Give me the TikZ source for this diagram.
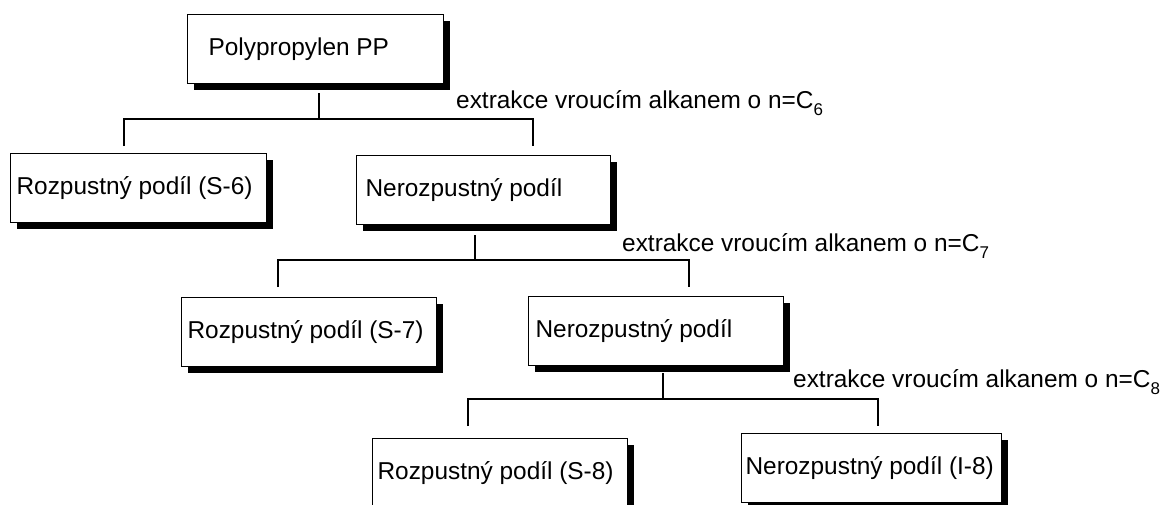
\documentclass[tikz,border=0pt]{standalone}
\usepackage{fontspec}
\setmainfont{Liberation Sans}
\usetikzlibrary{shadows}
\tikzset{
  txt/.style={font=\fontsize{24.4}{29}\selectfont},
  box/.style={txt, draw=black, line width=1.2pt, fill=white, anchor=north west,
    inner xsep=0pt, inner ysep=0pt, minimum height=69pt,
    drop shadow={shadow xshift=6pt, shadow yshift=-6pt, fill=black, opacity=1}},
  conn/.style={draw=black, line width=1.2pt},
  lab/.style={txt, anchor=base west, inner sep=0pt}
}
\newcommand{\boxtext}[3]{\makebox[#1pt][l]{\hspace{#2pt}#3}}
\newcommand{\subnum}[1]{\raisebox{-7pt}{\fontsize{17}{17}\selectfont #1}}
\begin{document}
\begin{tikzpicture}[x=1pt, y=-1pt]
\useasboundingbox (0,0) rectangle (1173,504);
% boxes
\node[box] (b1) at (187,14) {\boxtext{256}{21}{\raisebox{-2pt}{Polypropylen PP}}};
\node[box] (s6) at (10,153) {\boxtext{256}{6}{Rozpustný podíl (S-6)}};
\node[box] (n1) at (356,155) {\boxtext{254}{9}{\raisebox{-1.5pt}{Nerozpustný podíl}}};
\node[box] (s7) at (181,297) {\boxtext{255}{6}{Rozpustný podíl (S-7)}};
\node[box] (n2) at (528,296) {\boxtext{255}{7}{\raisebox{-1.5pt}{Nerozpustný podíl}}};
\node[box] (s8) at (372,438) {\boxtext{255}{5}{\raisebox{4pt}{Rozpustný podíl (S-8)}}};
\node[box] (i8) at (741,433) {\boxtext{260}{4}{\raisebox{2pt}{Nerozpustný podíl (I-8)}}};
% labels
\node[lab] (lab1) at (456,108) {extrakce vroucím alkanem o n=C\subnum{6}};
\node[lab] (lab2) at (622,251) {extrakce vroucím alkanem o n=C\subnum{7}};
\node[lab] (lab3) at (793,387) {extrakce vroucím alkanem o n=C\subnum{8}};
% level 1
\coordinate (j1) at (319,119);
\coordinate (l1) at (124,119);
\coordinate (r1) at (533,119);
\draw[conn] ([yshift=-9pt]b1.south -| j1) -- (j1);
\draw[conn] ([yshift=7pt]s6.north -| l1) -- (l1) -- (r1) -- ([yshift=9pt]n1.north -| r1);
% level 2
\coordinate (j2) at (475,260);
\coordinate (l2) at (278,260);
\coordinate (r2) at (689,260);
\draw[conn] ([yshift=-10pt]n1.south -| j2) -- (j2);
\draw[conn] ([yshift=10pt]s7.north -| l2) -- (l2) -- (r2) -- ([yshift=9pt]n2.north -| r2);
% level 3
\coordinate (j3) at (663,399);
\coordinate (l3) at (468,399);
\coordinate (r3) at (878,399);
\draw[conn] ([yshift=-7pt]n2.south -| j3) -- (j3);
\draw[conn] ([yshift=12pt]s8.north -| l3) -- (l3) -- (r3) -- ([yshift=7pt]i8.north -| r3);
\end{tikzpicture}
\end{document}
